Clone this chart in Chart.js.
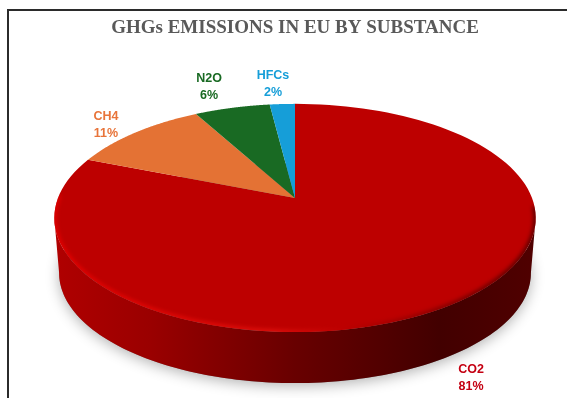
<!DOCTYPE html>
<html>
<head>
<meta charset="utf-8">
<title>GHGs emissions in EU by substance</title>
<script src="https://cdn.jsdelivr.net/npm/chart.js@4/dist/chart.umd.min.js"></script>
<style>
    html, body { margin: 0; padding: 0; background: #fff; overflow: hidden; }
    #frame { position: absolute; left: 7px; top: 9px; right: 0; bottom: 0; border-left: 2px solid #2b2b2b; border-top: 2px solid #2b2b2b; }
    #chart { position: absolute; left: 0; top: 0; }
</style>
</head>
<body>
<div id="frame"></div>
<canvas id="chart" width="567" height="398"></canvas>
<script>
const categories = ['CO2', 'CH4', 'N2O', 'HFCs'];
const shares = [81, 11, 6, 2];
const sliceColors = ['#bd0000', '#e47234', '#196a23', '#169ed8'];
const labelColors = ['#c40012', '#e8743a', '#196a23', '#169ed8'];
const labelCenters = [[471, 370], [106, 117], [209, 79], [273, 76]];

// perspective of the disc, as factors of the pie radius
const WIDE = 1.5, FLAT = 0.7, LEAN = -0.175;
const STEPS = 120;

function topPoint(arc, angle) {
    const den = 1 + LEAN * Math.sin(angle);
    return {
        x: arc.x + WIDE * arc.outerRadius * Math.cos(angle) / den,
        y: arc.y + FLAT * arc.outerRadius * Math.sin(angle) / den
    };
}

// same rim, pushed down and slightly smaller further from the eye
function basePoint(arc, angle) {
    const p = topPoint(arc, angle);
    const midY = arc.y + 20;
    return { x: arc.x + 0.98 * (p.x - arc.x), y: midY + 0.965 * (p.y - midY) + 55 };
}

function trace(ctx, arc, from, to, pointAt) {
    for (let i = 0; i <= STEPS; i++) {
        const p = pointAt(arc, from + (to - from) * i / STEPS);
        ctx.lineTo(p.x, p.y);
    }
}

class TiltedArc extends Chart.ArcElement {
    static id = 'tiltedArc';

    draw(ctx) {
        const frontFrom = Math.max(this.startAngle, 0.176);
        const frontTo = Math.min(this.endAngle, Math.PI - 0.176);
        ctx.save();

        // side wall, only where the slice faces the viewer
        if (frontTo > frontFrom) {
            const wall = ctx.createLinearGradient(54, 0, 536, 0);
            wall.addColorStop(0, '#b00000');
            wall.addColorStop(0.2, '#9a0000');
            wall.addColorStop(0.5, '#680000');
            wall.addColorStop(0.8, '#420000');
            wall.addColorStop(1, '#500000');
            ctx.beginPath();
            trace(ctx, this, frontFrom, frontTo, topPoint);
            trace(ctx, this, frontTo, frontFrom, basePoint);
            ctx.closePath();
            ctx.fillStyle = wall;
            ctx.fill();
        }

        ctx.beginPath();
        ctx.moveTo(this.x, this.y);
        trace(ctx, this, this.startAngle, this.endAngle, topPoint);
        ctx.closePath();
        ctx.fillStyle = this.options.backgroundColor;
        ctx.fill();

        // soft bevel along the front edge of the top face
        if (frontTo > frontFrom) {
            ctx.clip();
            const bevel = ctx.createLinearGradient(54, 0, 536, 0);
            bevel.addColorStop(0, '#e80000');
            bevel.addColorStop(0.45, '#e4120e');
            bevel.addColorStop(0.6, '#bd0000');
            bevel.addColorStop(0.85, '#6a0000');
            bevel.addColorStop(1, '#480000');
            ctx.filter = 'blur(2px)';
            ctx.beginPath();
            trace(ctx, this, frontFrom - 0.1, frontTo + 0.2, topPoint);
            ctx.strokeStyle = bevel;
            ctx.lineWidth = 4;
            ctx.stroke();
        }
        ctx.restore();
    }
}

class TiltedPie extends Chart.PieController {
    static id = 'tiltedPie';
    static defaults = { dataElementType: 'tiltedArc' };
}

Chart.register(TiltedArc, TiltedPie);

const groundShadow = {
    id: 'groundShadow',
    beforeDatasetsDraw(chart) {
        const arc = chart.getDatasetMeta(0).data[0];
        const ctx = chart.ctx;
        ctx.save();
        ctx.shadowColor = 'rgba(0, 0, 0, 0.3)';
        ctx.shadowBlur = 14;
        ctx.shadowOffsetY = 3;
        ctx.fillStyle = '#888';
        ctx.beginPath();
        trace(ctx, arc, 0, Math.PI * 2, basePoint);
        ctx.closePath();
        ctx.fill();
        ctx.restore();
    }
};

const sliceLabels = {
    id: 'sliceLabels',
    afterDatasetsDraw(chart) {
        const ctx = chart.ctx;
        ctx.save();
        ctx.font = 'bold 12.5px "Liberation Sans"';
        ctx.textAlign = 'center';
        ctx.textBaseline = 'middle';
        categories.forEach((name, i) => {
            const [x, y] = labelCenters[i];
            ctx.fillStyle = labelColors[i];
            ctx.fillText(name, x, y);
            ctx.fillText(shares[i] + '%', x, y + 17);
        });
        ctx.restore();
    }
};

new Chart(document.getElementById('chart'), {
    type: 'tiltedPie',
    data: {
        labels: categories,
        datasets: [{ data: shares, backgroundColor: sliceColors, borderWidth: 0 }]
    },
    options: {
        responsive: false,
        animation: false,
        layout: { padding: { left: 23, bottom: 42 } },
        plugins: {
            legend: { display: false },
            tooltip: { enabled: false },
            title: {
                display: true,
                text: 'GHGs EMISSIONS IN EU BY SUBSTANCE',
                color: '#595959',
                font: { family: '"Liberation Serif"', size: 19, weight: 'bold', lineHeight: 1.2 },
                padding: { top: 16.5, bottom: 0.7 }
            }
        }
    },
    plugins: [groundShadow, sliceLabels]
});
</script>
</body>
</html>
